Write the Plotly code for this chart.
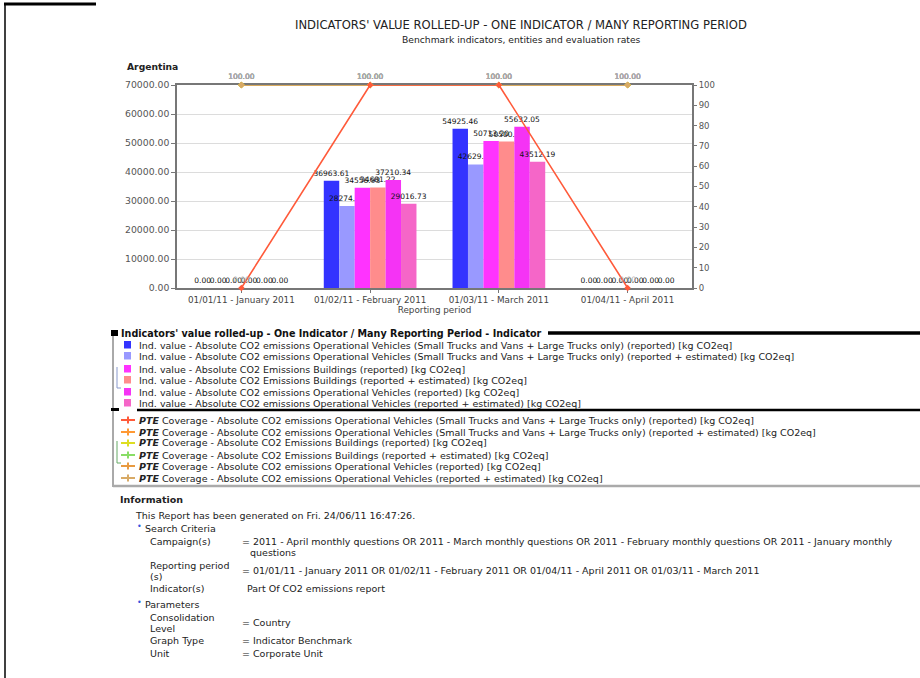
import plotly.graph_objects as go

# ---------------- data ----------------
periods = ["01/01/11 - January 2011", "01/02/11 - February 2011",
           "01/03/11 - March 2011", "01/04/11 - April 2011"]

bar_names = [
    "Ind. value - Absolute CO2 emissions Operational Vehicles (Small Trucks and Vans + Large Trucks only) (reported) [kg CO2eq]",
    "Ind. value - Absolute CO2 emissions Operational Vehicles (Small Trucks and Vans + Large Trucks only) (reported + estimated) [kg CO2eq]",
    "Ind. value - Absolute CO2 Emissions Buildings (reported) [kg CO2eq]",
    "Ind. value - Absolute CO2 Emissions Buildings (reported + estimated) [kg CO2eq]",
    "Ind. value - Absolute CO2 emissions Operational Vehicles (reported) [kg CO2eq]",
    "Ind. value - Absolute CO2 emissions Operational Vehicles (reported + estimated) [kg CO2eq]",
]
veh_small_large_rep = [0.00, 36963.61, 54925.46, 0.00]
veh_small_large_est = [0.00, 28274.14, 42629.24, 0.00]
bld_rep = [0.00, 34556.93, 50713.20, 0.00]
bld_est = [0.00, 34681.22, 50500.64, 0.00]
veh_rep = [0.00, 37210.34, 55632.05, 0.00]
veh_est = [0.00, 29016.73, 43512.19, 0.00]
bar_values = [veh_small_large_rep, veh_small_large_est, bld_rep,
              bld_est, veh_rep, veh_est]

line_names = [
    "PTE Coverage - Absolute CO2 emissions Operational Vehicles (Small Trucks and Vans + Large Trucks only) (reported) [kg CO2eq]",
    "PTE Coverage - Absolute CO2 emissions Operational Vehicles (Small Trucks and Vans + Large Trucks only) (reported + estimated) [kg CO2eq]",
    "PTE Coverage - Absolute CO2 Emissions Buildings (reported) [kg CO2eq]",
    "PTE Coverage - Absolute CO2 Emissions Buildings (reported + estimated) [kg CO2eq]",
    "PTE Coverage - Absolute CO2 emissions Operational Vehicles (reported) [kg CO2eq]",
    "PTE Coverage - Absolute CO2 emissions Operational Vehicles (reported + estimated) [kg CO2eq]",
]
cov_small_large_rep = [0.00, 100.00, 100.00, 0.00]
cov_small_large_est = [100.00, 100.00, 100.00, 100.00]
cov_bld_rep = [100.00, 100.00, 100.00, 100.00]
cov_bld_est = [100.00, 100.00, 100.00, 100.00]
cov_veh_rep = [100.00, 100.00, 100.00, 100.00]
cov_veh_est = [100.00, 100.00, 100.00, 100.00]
line_values = [cov_small_large_rep, cov_small_large_est, cov_bld_rep,
               cov_bld_est, cov_veh_rep, cov_veh_est]

# ---------------- styling ----------------
bar_colors = ["#3333ff", "#9999ff", "#ff33ff", "#ff8c8c", "#f533f5", "#f566c8"]
line_colors = ["#ff5a3a", "#ff9933", "#dddd22", "#88dd66", "#e89a40", "#d8aa66"]

FONT = "DejaVu Sans"
TXT = 9.5
W, H = 920, 678
PL, PR, PT, PB = 177, 692, 85, 288   # plot area in pixels


def fx(px):
    return (px - PL) / (PR - PL)


def fy(py):
    return (PB - py) / (PB - PT)


fig = go.Figure()

for name, vals, col in zip(bar_names, bar_values, bar_colors):
    fig.add_trace(go.Bar(
        x=periods, y=vals, name=name, marker=dict(color=col, line=dict(width=0)),
        text=[f"{v:.2f}" for v in vals], textposition="outside",
        constraintext="none", cliponaxis=False,
        textfont=dict(family=FONT, size=7.5, color="#111"),
        showlegend=False,
    ))

# coverage lines: the reported vehicles series is drawn last so it sits on top
order = [1, 2, 3, 4, 5, 0]
for i in order:
    vals = line_values[i]
    fig.add_trace(go.Scatter(
        x=periods, y=vals, name=line_names[i], yaxis="y2",
        mode="lines+markers+text",
        line=dict(color=line_colors[i], width=1.6),
        marker=dict(symbol="diamond", size=5, color=line_colors[i]),
        text=[f"{v:.2f}" for v in vals], textposition="top center",
        textfont=dict(family=FONT, size=7.5, color="#aaa"),
        cliponaxis=False, showlegend=False,
    ))

fig.update_layout(
    width=W, height=H,
    margin=dict(l=PL, r=W - PR, t=PT, b=H - PB, autoexpand=False),
    paper_bgcolor="white", plot_bgcolor="white",
    barmode="group", bargap=0.28, bargroupgap=0.0,
    font=dict(family=FONT, size=TXT, color="#222"),
    xaxis=dict(
        type="category", showline=True, linecolor="#777", linewidth=1.5,
        mirror=True, ticks="outside", ticklen=3, tickcolor="#777",
        layer="below traces",
        tickfont=dict(family=FONT, size=8.8, color="#444"),
        title=dict(text="Reporting period", font=dict(family=FONT, size=8.8, color="#444"),
                   standoff=2),
        showgrid=False,
    ),
    yaxis=dict(
        range=[0, 70000], dtick=10000, tickformat=".2f",
        showline=True, linecolor="#777", linewidth=1.5, mirror=True,
        ticks="outside", ticklen=4, tickcolor="#777", layer="below traces",
        tickfont=dict(family=FONT, size=9.3, color="#555"),
        showgrid=True, gridcolor="#dcdcdc", gridwidth=1, zeroline=False,
    ),
    yaxis2=dict(
        overlaying="y", side="right", range=[0, 100], dtick=10,
        showline=False, ticks="outside", ticklen=4, tickcolor="#777",
        tickfont=dict(family=FONT, size=8.5, color="#555"),
        showgrid=False, zeroline=False,
    ),
)

ann = []
shapes = []


def text(px, py, s, size=TXT, bold=False, color="#222", anchor="left"):
    if bold:
        s = f"<b>{s}</b>"
    ann.append(dict(x=fx(px), y=fy(py), xref="paper", yref="paper", text=s,
                    showarrow=False, xanchor=anchor, yanchor="middle",
                    font=dict(family=FONT, size=size, color=color)))


def line(x0, y0, x1, y1, color="#000", width=1):
    shapes.append(dict(type="line", xref="paper", yref="paper",
                       x0=fx(x0), y0=fy(y0), x1=fx(x1), y1=fy(y1),
                       line=dict(color=color, width=width)))


def rect(x0, y0, x1, y1, color):
    shapes.append(dict(type="rect", xref="paper", yref="paper",
                       x0=fx(x0), y0=fy(y0), x1=fx(x1), y1=fy(y1),
                       line=dict(width=0), fillcolor=color))


# page frame
line(4, 4, 96, 4, "#000", 3)
line(5, 4, 5, 678, "#000", 1.5)

# titles
text(521, 25, "INDICATORS' VALUE ROLLED-UP - ONE INDICATOR / MANY REPORTING PERIOD",
     size=11.6, color="#222", anchor="center")
text(521, 40, "Benchmark indicators, entities and evaluation rates",
     size=9.2, color="#222", anchor="center")
text(125, 66, "Argentina", size=9.2, bold=True)

# legend: bar series
text(119, 333, "Indicators' value rolled-up - One Indicator / Many Reporting Period - Indicator",
     size=9.6, bold=True, color="#111")
rect(111, 330, 118, 336, "#000")
line(548, 333, 920, 333, "#000", 3.5)
line(113, 336, 113, 410, "#555", 1)
line(117, 367, 117, 388, "#8899cc", 1)
line(117, 388, 121, 388, "#8899cc", 1)
rect(111, 408, 119, 411, "#000")
line(137, 410, 920, 410, "#000", 2.5)
bar_leg_y = [345, 356, 369, 380, 392, 403]
for yy, name, col in zip(bar_leg_y, bar_names, bar_colors):
    rect(124, yy - 4, 131, yy + 3.5, col)
    text(137, yy, name)

# legend: coverage lines
line(113, 411, 113, 487, "#555", 1)
line(117, 441, 117, 463, "#66aa66", 1)
line(117, 463, 121, 463, "#66aa66", 1)
line(113, 486, 920, 486, "#aaa", 2.5)
line_leg_y = [420, 432, 443, 455, 466, 478]
for yy, name, col in zip(line_leg_y, line_names, line_colors):
    line(121, yy, 135, yy, col, 2)
    line(128, yy - 3.5, 128, yy + 3.5, col, 2)
    label = name.replace("PTE Coverage", "<b><i>PTE</i></b> Coverage", 1)
    text(137, yy, label)

# information block
text(118, 499, "Information", bold=True)
text(133, 515, "This Report has been generated on Fri. 24/06/11 16:47:26.")
text(139, 526, "•", size=8, color="#3355dd", anchor="center")
text(143, 528, "Search Criteria")
text(148, 541, "Campaign(s)")
text(240, 541, "= 2011 - April monthly questions OR 2011 - March monthly questions OR 2011 - February monthly questions OR 2011 - January monthly")
text(248, 552, "questions")
text(148, 565, "Reporting period")
text(148, 576, "(s)")
text(240, 570, "= 01/01/11 - January 2011 OR 01/02/11 - February 2011 OR 01/04/11 - April 2011 OR 01/03/11 - March 2011")
text(148, 588, "Indicator(s)")
text(245, 588, "Part Of CO2 emissions report")
text(139, 602, "•", size=8, color="#3355dd", anchor="center")
text(143, 604, "Parameters")
text(148, 617, "Consolidation")
text(148, 628, "Level")
text(240, 622, "= Country")
text(148, 640, "Graph Type")
text(240, 640, "= Indicator Benchmark")
text(148, 653, "Unit")
text(240, 653, "= Corporate Unit")

fig.update_layout(annotations=ann, shapes=shapes)

fig.write_html("out.html")
